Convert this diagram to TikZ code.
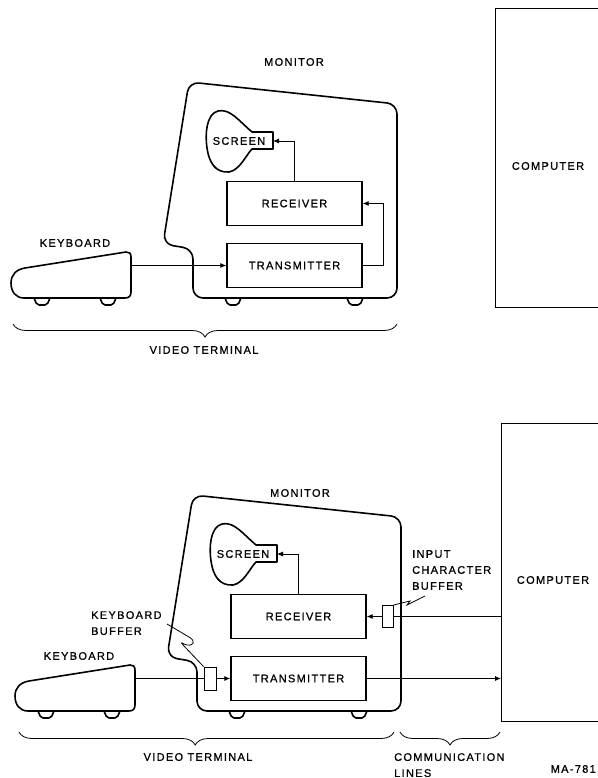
\documentclass[tikz,border=0pt]{standalone}
\usepackage{fontspec}
\usepackage{tikz}
\usetikzlibrary{arrows.meta, positioning, calc}
\usetikzlibrary{decorations.pathreplacing}
\newfontfamily\lblfont[LetterSpace=12, FakeBold=0.8]{Liberation Sans}

\begin{document}
\begin{tikzpicture}[x=1pt, y=-1pt,
    lbl/.style={font=\lblfont\fontsize{11}{16}\selectfont, inner sep=0pt},
    outline/.style={line width=1.6pt, line join=round},
    unitbox/.style={lbl, draw, line width=1.4pt, fill=white, minimum width=135pt, minimum height=44pt},
    bufbox/.style={draw, line width=0.9pt, fill=white, inner sep=0pt},
    cpubox/.style={draw, line width=1.2pt, inner sep=0pt, anchor=north west},
    conn/.style={line width=0.8pt},
    arr/.style={-{Latex[length=6pt,width=5pt]}},
    brc/.style={line width=0.8pt, decorate, decoration={brace, mirror, amplitude=13pt}}]

\useasboundingbox (0,0) rectangle (597,778);

\foreach \s/\dx/\dy in {T/0/0, B/4/413}
{
\begin{scope}[shift={(\dx,\dy)}]
    \draw[outline, rounded corners=10] (163,244) -- (189,82) -- (397,104) -- (397,298) -- (193,298) -- (193,249) -- cycle;
    \draw[outline] (126,252) -- (25,268) .. controls (16,269.5) and (11,275) .. (11,283)
        .. controls (11,292) and (16,298) .. (24,298) -- (125,298)
        .. controls (129,298) and (131,296) .. (131,292) -- (131,257)
        .. controls (131,253) and (129,252) .. (126,252) -- cycle;
    \foreach \f in {42,108,233,355}
        \draw[outline, rounded corners=2] (\f-8,298) -- (\f-5,305) -- (\f+5,305) -- (\f+8,298);
    \draw[outline] (252,132) .. controls (240,122) and (230,108) .. (218,111)
        .. controls (206,114) and (205,135) .. (207,148)
        .. controls (209,162) and (215,173) .. (229,172)
        .. controls (240,170) and (246,155) .. (252,149) -- (273,149) -- (273,132) -- cycle;
    \node[lbl] (nScr\s) at (239,141) {SCREEN};
    \coordinate (cNeckPt\s) at (273,141);
    \coordinate (cKbdPt\s) at (131,266);
    \node[unitbox] (nRecv\s) at (294.5,203.5) {RECEIVER};
    \node[unitbox] (nXmt\s) at (294.5,265.5) {TRANSMITTER};
    \node[lbl] (nKbdLbl\s) at (75,243) {KEYBOARD};
    \draw[conn, arr] (nRecv\s.north) |- (cNeckPt\s);
\end{scope}
}

\node[lbl] (nMonT) at (294,62) {MONITOR};
\draw[conn, arr] (nXmtT.west -| cKbdPtT) -- (nXmtT.west);
\draw[conn, arr] (nXmtT.east) -- ++(21,0) |- (nRecvT.east);
\node[cpubox, minimum width=120pt, minimum height=299pt] (nCompT) at (495,8) {};
\node[lbl] (nCompLblT) at (548,166) {COMPUTER};
\draw[brc] (13,324) -- (397,324);
\node[lbl] (nVidT) at (204,350) {VIDEO TERMINAL};

\node[lbl] (nMonB) at (300,493) {MONITOR};
\node[bufbox, minimum width=12pt, minimum height=23pt] (nKBufB) at (210,678.5) {};
\node[bufbox, minimum width=11pt, minimum height=22pt] (nIBufB) at (387.5,616.5) {};
\node[cpubox, minimum width=110pt, minimum height=298pt] (nCompB) at (501,423) {};
\node[lbl] (nCompLblB) at (553,580) {COMPUTER};

\draw[conn] (nXmtB.west -| cKbdPtB) -- (nKBufB.west);
\draw[conn, arr] (nKBufB.east) -- (nXmtB.west);
\draw[conn, arr] (nXmtB.east) -- (nXmtB.east -| nCompB.west);
\draw[conn] (nRecvB.east -| nCompB.west) -- (nIBufB.east);
\draw[conn, arr] (nIBufB.west) -- (nRecvB.east);

\node[lbl, align=left, anchor=north west] (nKBufLbl) at (91,611) {KEYBOARD\\BUFFER};
\node[lbl, align=left, anchor=north west] (nIBufLbl) at (412,550) {INPUT\\CHARACTER\\BUFFER};
\coordinate (cKBufTipPt) at (167,624);
\coordinate (cIBufTipPt) at (425,596);
\draw[conn] (cKBufTipPt) -- (189,637) .. controls (196,641) and (194,646) .. (187,645)
    .. controls (182,644) and (179,640) .. (184,646) -- (nKBufB.north west);
\draw[conn] (nIBufB.north east) -- (410,601) -- (407,605) -- (cIBufTipPt);

\draw[brc, decoration={aspect=0.47}] (19,732) -- (394,732);
\draw[brc] (400,732) -- (500,732);
\node[lbl] (nVidB) at (198,757) {VIDEO TERMINAL};
\node[lbl, align=left, anchor=north west] (nComLbl) at (394,753) {COMMUNICATION\\LINES};
\node[lbl, anchor=east] (nFigId) at (596,769) {MA-781};

\end{tikzpicture}
\end{document}
